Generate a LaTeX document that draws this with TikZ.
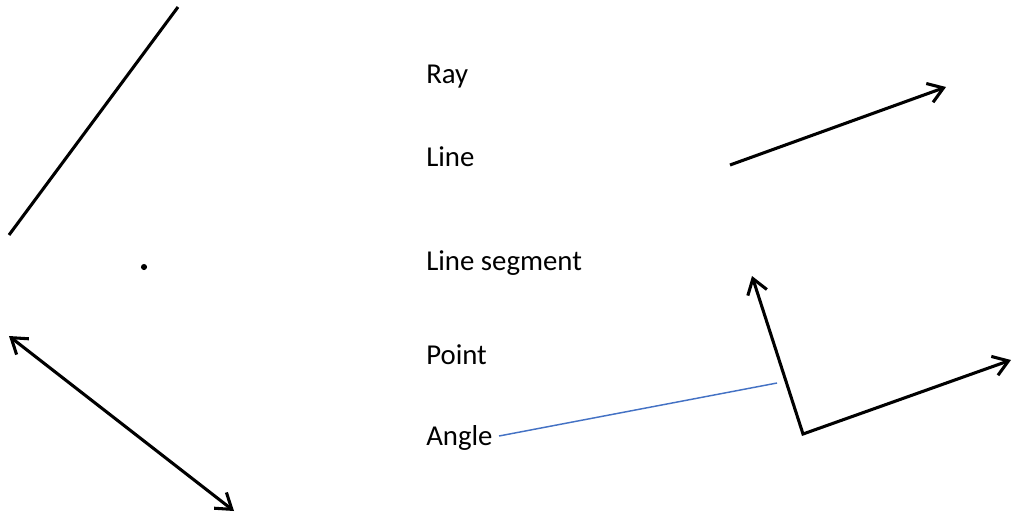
\documentclass[tikz,border=0pt]{standalone}
\usepackage{fontspec}
\setmainfont{Carlito}
\usetikzlibrary{arrows.meta}
\definecolor{linkblue}{HTML}{4472C4}
\tikzset{
  geo/.style={line width=2.3pt, black},
  barb/.tip={Straight Barb[length=11pt,width=15pt,line width=2.3pt]},
  lbl/.style={anchor=base west, inner sep=0pt, font=\fontsize{21.6pt}{25pt}\selectfont},
  pointer/.style={linkblue, line width=1.1pt}
}
\begin{document}
\begin{tikzpicture}[x=0.75pt,y=-0.75pt]
\useasboundingbox (0,0) rectangle (1012,515);
% labels
\node[lbl] (ray)   at (426,83)  {Ray};
\node[lbl] (line)  at (426,166) {Line};
\node[lbl] (seg)   at (426,270) {Line segment};
\node[lbl] (point) at (426,364) {Point};
\node[lbl] (angle) at (426,445) {Angle};
% line segment
\coordinate (s1) at (9,235);
\coordinate (s2) at (178,7);
\draw[geo] (s1) -- (s2);
% point
\node[circle, fill=black, inner sep=0pt, minimum size=4.6pt] (pt) at (144,267) {};
% line (double arrow)
\coordinate (l1) at (9,336);
\coordinate (l2) at (234,511);
\draw[geo, barb-barb] (l1) -- (l2);
% ray
\coordinate (r1) at (730,165);
\coordinate (r2) at (946,87);
\draw[geo, -barb] (r1) -- (r2);
% angle
\coordinate (av) at (803,434);
\coordinate (a1) at (752,276);
\coordinate (a2) at (1011,360);
\draw[geo, barb-barb, line join=miter] (a1) -- (av) -- (a2);
% pointer
\coordinate (p1) at (499,436);
\coordinate (p2) at (777,383);
\draw[pointer] (p1) -- (p2);
\end{tikzpicture}
\end{document}
